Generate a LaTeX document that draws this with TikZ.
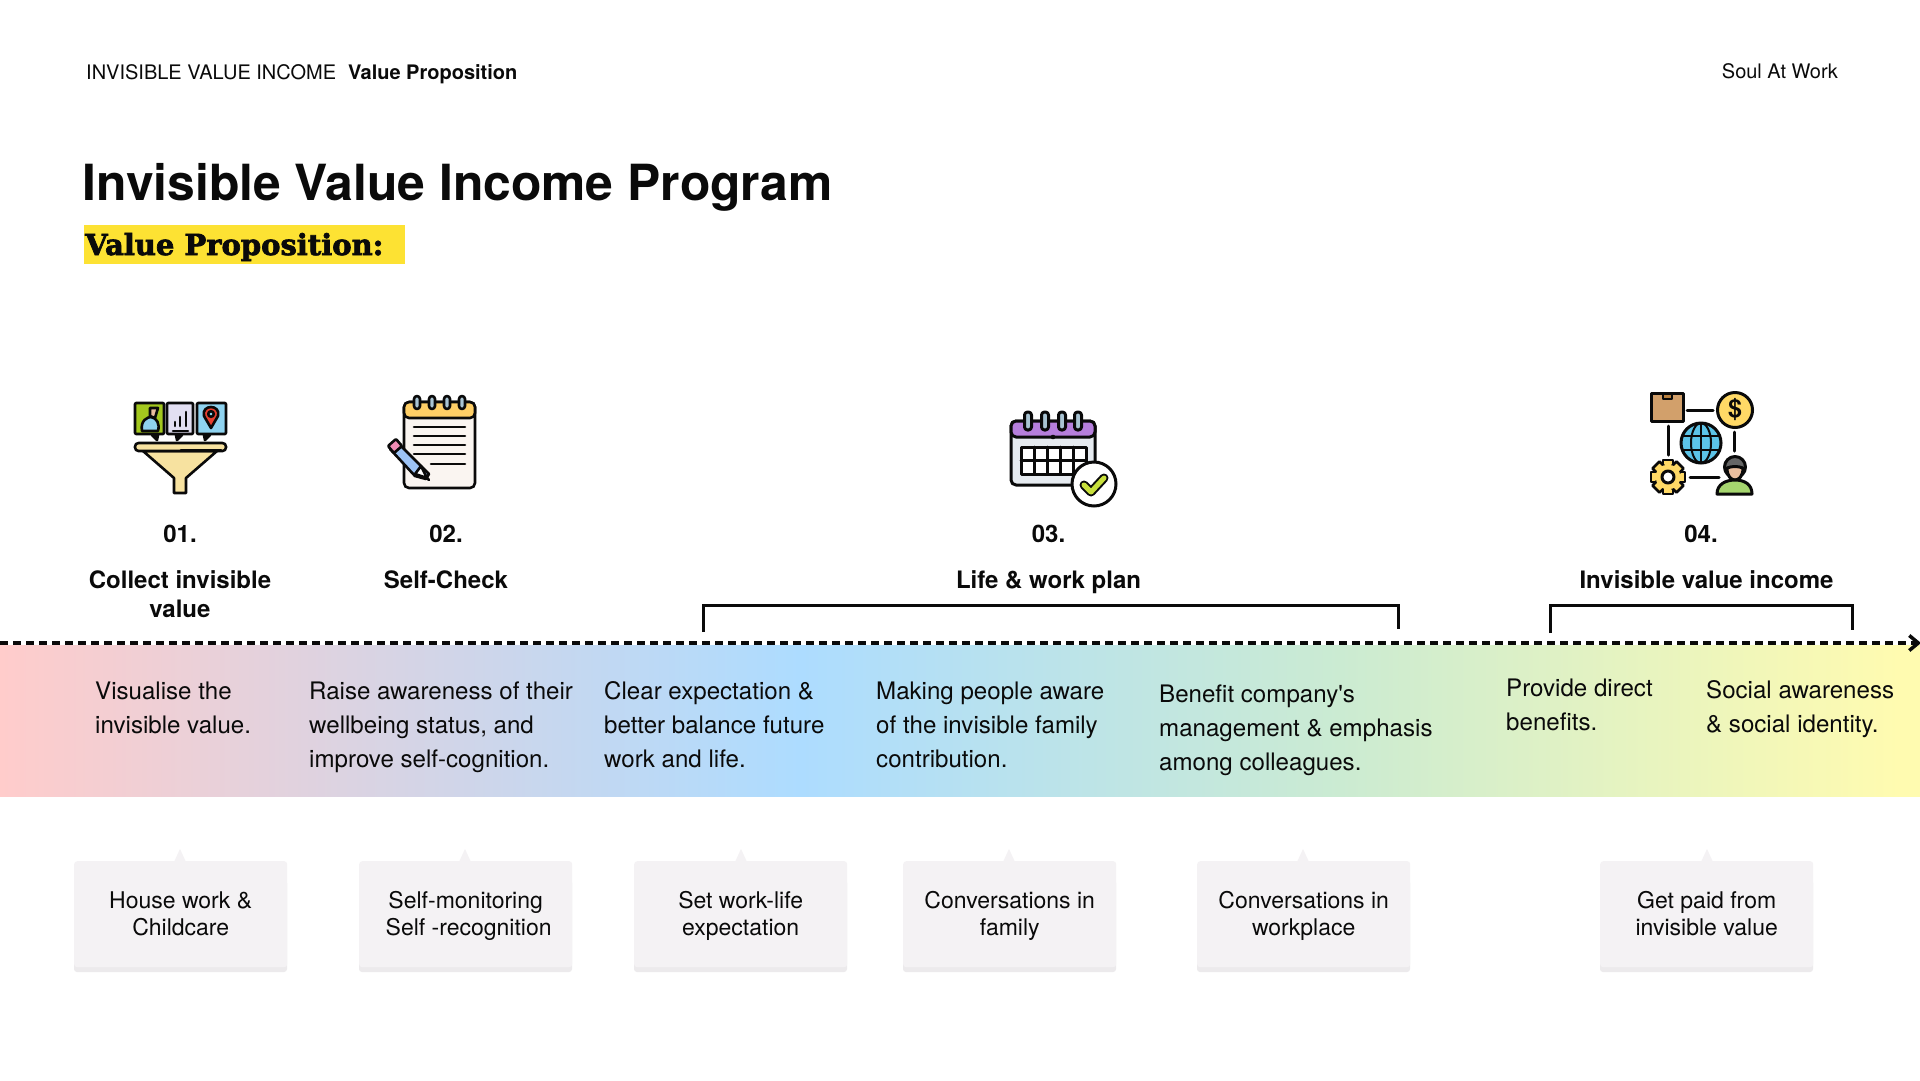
\documentclass[tikz,border=0pt]{standalone}
\usepackage{fontspec}
\setmainfont{TeX Gyre Heros}
\newfontfamily\slabfont{DejaVu Serif}
\usetikzlibrary{arrows.meta,calc}
\definecolor{ink}{HTML}{0A0A0A}
\definecolor{cardfill}{HTML}{F4F2F4}
\definecolor{cardedge}{HTML}{ECEAEC}
\definecolor{hl}{HTML}{FDE233}
\definecolor{bandA}{HTML}{FFCCCB}
\definecolor{bandB}{HTML}{ADDCFF}
\definecolor{bandC}{HTML}{CBEBD2}
\definecolor{bandD}{HTML}{FFFBB0}
\definecolor{ygreen}{HTML}{A3C81E}
\definecolor{lav}{HTML}{E2DFF2}
\definecolor{sky}{HTML}{8FD3F0}
\definecolor{funnel}{HTML}{F7E2A0}
\definecolor{pin}{HTML}{E8402F}
\definecolor{padtop}{HTML}{FFCF66}
\definecolor{paper}{HTML}{FAF5F1}
\definecolor{pencil}{HTML}{9DC3F5}
\definecolor{rubber}{HTML}{F08CB4}
\definecolor{calpurple}{HTML}{B67FDC}
\definecolor{calbody}{HTML}{E6EBF0}
\definecolor{calring}{HTML}{A9C4D3}
\definecolor{tick}{HTML}{C8E03C}
\definecolor{carton}{HTML}{D2A06B}
\definecolor{cartontape}{HTML}{B8803F}
\definecolor{coin}{HTML}{FFD966}
\definecolor{globe}{HTML}{5CC4E8}
\definecolor{skin}{HTML}{EBBF9F}
\definecolor{hair}{HTML}{666666}
\definecolor{shirt}{HTML}{A6D66F}
\tikzset{
  headtext/.style={anchor=base west,inner sep=0,font=\fontsize{20}{24}\selectfont,text=ink},
  steptitle/.style={anchor=base,inner sep=0,align=center,font=\fontsize{24}{29}\selectfont\bfseries,text=ink},
  bandtext/.style={anchor=base west,inner sep=0,align=left,font=\fontsize{24.1}{34.3}\selectfont,text=ink},
  cardbox/.style={fill=cardfill,rounded corners=3pt,minimum width=213pt,minimum height=106pt,inner sep=0,align=center,font=\fontsize{23}{27}\selectfont,text=ink},
  cardbase/.style={fill=cardedge,rounded corners=3pt},
  bracket/.style={draw=ink,line width=3pt},
  axisline/.style={draw=ink,line width=3.5pt,dash pattern=on 8pt off 5pt},
  icon/.style={draw=ink,line width=2.6pt,line join=round,line cap=round},
}
\newcommand{\infocard}[4]{% name, left x, tail x, text
  \path[cardbase] (#2,880) rectangle ++(213,92);
  \path[fill=cardfill] (#3-6,862) -- (#3,849) -- (#3+6,862) -- cycle;
  \node[cardbox,anchor=north west] (#1) at (#2,861) {\rule{0pt}{23pt}#4\strut};
}
\begin{document}
\begin{tikzpicture}[x=1pt,y=-1pt]
\useasboundingbox (0,0) rectangle (1920,1080);
\fill[white] (0,0) rectangle (1920,1080);

% header
\node[headtext] (hA) at (86,79) {INVISIBLE VALUE INCOME};
\node[headtext,font=\fontsize{20}{24}\selectfont\bfseries] (hB) at (348,79) {Value Proposition};
\node[headtext,anchor=base east] (hC) at (1838,78) {Soul At Work};
\node[anchor=base west,inner sep=0,font=\fontsize{49.8}{60}\selectfont\bfseries,text=ink] (title) at (82.5,200) {Invisible Value Income Program};
\fill[hl] (84,225) rectangle (405,264);
\node[anchor=base west,inner sep=0,font=\fontsize{29}{34}\slabfont\bfseries,text=ink] (sub) at (85,255) {\special{pdf:code 2 Tr 0.7 w}Value Proposition:\special{pdf:code 0 Tr}};

% band
\shade[left color=bandA,right color=bandB] (0,645) rectangle (800,796.5);
\shade[left color=bandB,right color=bandC] (799.5,645) rectangle (1340,796.5);
\shade[left color=bandC,right color=bandD] (1339.5,645) rectangle (1900,796.5);
\fill[bandD] (1899.5,645) rectangle (1920,796.5);

% axis
\coordinate (axisstart) at (0,643);
\coordinate (axisend) at (1921,643);
\draw[axisline,-{Straight Barb[length=9pt,width=15pt,line width=3.5pt]}] (axisstart) -- (axisend);

% brackets
\coordinate (b1a) at (703,632); \coordinate (b1b) at (1398,629);
\coordinate (b2a) at (1550,633); \coordinate (b2b) at (1852,630);
\draw[bracket] (b1a) |- (1050,605) -| (b1b);
\draw[bracket] (b2a) |- (1700,605) -| (b2b);

% step titles
\node[steptitle] (n1) at (180,542) {01.};
\node[steptitle] (n2) at (446,542) {02.};
\node[steptitle] (n3) at (1048.5,542) {03.};
\node[steptitle] (n4) at (1701,542) {04.};
\node[steptitle] (t1) at (180,617) {Collect invisible\\value};
\node[steptitle] (t2) at (446,588) {Self-Check};
\node[steptitle] (t3) at (1048.5,588) {Life \& work plan};
\node[steptitle] (t4) at (1706.5,588) {Invisible value income};

% band text (anchors sit on the last line)
\node[bandtext] (d1) at (95,733.3) {Visualise the\\invisible value.};
\node[bandtext] (d2) at (309,767.6) {Raise awareness of their\\wellbeing status, and\\improve self-cognition.};
\node[bandtext] (d3) at (604,767.6) {Clear expectation \&\\better balance future\\work and life.};
\node[bandtext] (d4) at (876,767.6) {Making people aware\\of the invisible family\\contribution.};
\node[bandtext] (d5) at (1159,770.6) {Benefit company\textquotesingle s\\management \& emphasis\\among colleagues.};
\node[bandtext] (d6) at (1506,730.3) {Provide direct\\benefits.};
\node[bandtext] (d7) at (1706,732.3) {Social awareness\\\& social identity.};

% cards
\infocard{c1}{74}{180}{House work \&\\Childcare}
\infocard{c2}{359}{465}{Self-monitoring\\\hspace*{6pt}Self -recognition}
\infocard{c3}{634}{741}{Set work-life\\expectation}
\infocard{c4}{903}{1009}{Conversations in\\family}
\infocard{c5}{1197}{1303}{Conversations in\\workplace}
\infocard{c6}{1600}{1707}{Get paid from\\invisible value}

% icon 1: funnel
\begin{scope}[icon]
\filldraw[fill=ygreen,rounded corners=1pt] (135,403) rectangle (164,434);
\filldraw[fill=lav,rounded corners=1pt] (167,403) rectangle (193,434);
\filldraw[fill=sky,rounded corners=1pt] (197,403) rectangle (226,434);
\filldraw[fill=ink] (152,435) -- (157,440) -- (158,435) -- cycle;
\filldraw[fill=ink] (176,435) -- (177,440) -- (182,435) -- cycle;
\filldraw[fill=ink] (204,435) -- (205,440) -- (210,435) -- cycle;
% person
\filldraw[fill=skin] (150,408) -- (158,408) -- (155,418) -- (150,416) -- cycle;
\filldraw[fill=sky] (142,431) .. controls (140,420) and (148,417) .. (151,417) .. controls (157,418) and (160,424) .. (158,431) -- cycle;
% bars
\draw (173,431) -- (188,431);
\draw (175,426) -- (175,422) (180,426) -- (180,417) (186,426) -- (186,412);
% pin
\filldraw[fill=pin] (211,428) -- (204,416) .. controls (201,404) and (221,404) .. (218,416) -- cycle;
\filldraw[fill=sky] (211,414) circle (2.8);
% funnel
\filldraw[fill=funnel] (143,451) -- (174,478) -- (174,493) -- (186,493) -- (186,478) -- (217,451) -- cycle;
\filldraw[fill=funnel,rounded corners=3.5pt] (135,443) rectangle (226,451);
\draw (181,450) -- (221,450);
\end{scope}

% icon 2: notepad
\begin{scope}[icon]
\filldraw[fill=paper,rounded corners=5pt] (404,402) rectangle (475,488);
\filldraw[fill=padtop,rounded corners=5pt] (404,418) -- (404,402) -- (475,402) -- (475,418) -- cycle;
\foreach \rx in {417,432,447,462}{
  \filldraw[fill=calring,rounded corners=3pt] (\rx-3,396) rectangle (\rx+3,409);
}
\draw (414,427) -- (465,427) (414,436) -- (465,436) (414,445) -- (465,445) (414,454) -- (465,454) (431,464) -- (465,464);
\filldraw[fill=pencil] (396,441) -- (429,474) -- (426,479) -- (415,476) -- (390,449) -- cycle;
\filldraw[fill=rubber,rounded corners=1pt] (396,439) -- (402,446) -- (394,453) -- (388,446) -- cycle;
\filldraw[fill=white] (421,466) -- (427,478) -- (415,474) -- cycle;
\draw (427,478) -- (429,480);
\end{scope}

% icon 3: calendar
\begin{scope}[icon,line width=3pt]
\filldraw[fill=calbody,rounded corners=5pt] (1011,421) rectangle (1095,485);
\filldraw[fill=calpurple,rounded corners=5pt] (1011,437) -- (1011,421) -- (1095,421) -- (1095,437) -- cycle;
\foreach \rx in {1028,1045,1062,1078}{
  \filldraw[fill=calring,rounded corners=3pt] (\rx-3.5,412) rectangle (\rx+3.5,430);
}
\filldraw[fill=ink] (1053,437) circle (1);
\filldraw[fill=white] (1021,447) rectangle (1086,474);
\draw (1021,460.5) -- (1086,460.5);
\foreach \gx in {1034,1047,1060,1073}{ \draw (\gx,447) -- (\gx,474); }
\filldraw[fill=white] (1094,484) circle (22);
\draw[line width=9pt,line cap=round,line join=round] (1084,485) -- (1091,492) -- (1104,478);
\draw[line width=5pt,tick,line cap=round,line join=round] (1084,485) -- (1091,492) -- (1104,478);
\end{scope}

% icon 4: network
\begin{scope}[icon,line width=3pt]
\filldraw[fill=carton] (1651,393) rectangle (1683,421);
\filldraw[fill=cartontape,line width=1.5pt] (1663,394) rectangle (1672,399);
\filldraw[fill=coin] (1735,410) circle (17.5);
\node[inner sep=0,text=ink,font=\fontsize{25}{25}\selectfont\bfseries] (dollar) at (1735,410) {\$};
\draw (1687,410) -- (1713,410);
\draw (1668,426) -- (1668,455);
\draw (1734,432) -- (1734,451);
\draw (1690,477) -- (1719,477);
\filldraw[fill=globe] (1701,443) circle (20);
\draw[line width=2pt] (1701,423) -- (1701,463);
\draw[line width=2pt] (1701,443) ellipse (10 and 20);
\draw[line width=2pt] (1683,436) -- (1719,436) (1683,450) -- (1719,450);
\draw (1668,477) circle (13);
\foreach \a in {0,45,...,315}{
  \filldraw[fill=coin,rotate around={\a:(1668,477)},line width=2.6pt] (1663,460) rectangle (1673,470);
}
\path[fill=coin] (1668,477) circle (12.4);
\filldraw[fill=white] (1668,477) circle (6);
\filldraw[fill=hair] (1735,467) circle (10.5);
\filldraw[fill=skin] (1727,468) .. controls (1727,484) and (1743,484) .. (1743,468) .. controls (1738,466) and (1732,466) .. (1727,468) -- cycle;
\filldraw[fill=shirt] (1717,494) .. controls (1717,484) and (1726,480) .. (1735,480) .. controls (1744,480) and (1752,484) .. (1752,494) -- cycle;
\end{scope}
\end{tikzpicture}
\end{document}
